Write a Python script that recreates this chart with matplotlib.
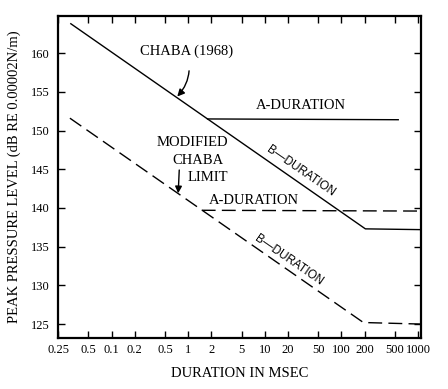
import matplotlib
matplotlib.use("Agg")
import matplotlib.pyplot as plt

# ---- data ----
chaba_b_x = [0.0294, 205, 1090]
chaba_b_y = [163.8, 137.3, 137.2]
chaba_a_x = [1.79, 550]
chaba_a_y = [151.5, 151.4]

mod_b_x = [0.0286, 193, 1090]
mod_b_y = [151.6, 125.2, 125.0]
mod_a_x = [1.5, 1090]
mod_a_y = [139.7, 139.6]

xtick_vals = [0.02, 0.05, 0.1, 0.2, 0.5, 1, 2, 5, 10, 20, 50, 100, 200, 500, 1000]
xtick_labels = ["0.25", "0.5", "0.1", "0.2", "0.5", "1", "2", "5", "10", "20",
                "50", "100", "200", "500", "1000"]
ytick_vals = [125, 130, 135, 140, 145, 150, 155, 160]

serif = ["Liberation Serif", "DejaVu Serif"]
sans = ["Liberation Sans", "DejaVu Sans"]

fig = plt.figure(figsize=(4.48, 3.89), dpi=100)
ax = fig.add_axes([58 / 448, 1 - 338 / 389, (421 - 58) / 448, (338 - 16) / 389])
ax.set_xscale("log")
ax.set_xlim(0.02, 1090)
ax.set_ylim(123.2, 164.8)

ax.plot(chaba_b_x, chaba_b_y, color="black", lw=1.0)
ax.plot(chaba_a_x, chaba_a_y, color="black", lw=1.0)
l1, = ax.plot(mod_b_x, mod_b_y, color="black", lw=1.0)
l2, = ax.plot(mod_a_x, mod_a_y, color="black", lw=1.0)
for l in (l1, l2):
    l.set_dashes((10, 4.5))

ax.set_xticks(xtick_vals)
ax.set_xticklabels(xtick_labels, fontfamily=serif, fontsize=9)
ax.xaxis.set_minor_locator(matplotlib.ticker.NullLocator())
ax.set_yticks(ytick_vals)
ax.set_yticklabels([str(v) for v in ytick_vals], fontfamily=serif, fontsize=9)
ax.tick_params(axis="both", direction="in", length=5, width=1,
               top=True, right=True, labeltop=False, labelright=False)
ax.tick_params(axis="x", pad=4)
ax.tick_params(axis="y", pad=6)
for s in ax.spines.values():
    s.set_linewidth(1.6)

ax.set_xlabel("DURATION IN MSEC", fontfamily=serif, fontsize=10.5, labelpad=8)
ax.set_ylabel("PEAK PRESSURE LEVEL (dB RE 0.00002N/m)", fontfamily=serif,
              fontsize=10.5, labelpad=7)

# annotations
ax.annotate("CHABA (1968)", xy=(0.72, 154.4), xytext=(0.94, 160.2),
            ha="center", va="center", fontfamily=serif, fontsize=10.5,
            arrowprops=dict(arrowstyle="-|>,head_length=0.4,head_width=0.2",
                            color="black", lw=1.0, shrinkA=7, shrinkB=0,
                            connectionstyle="arc3,rad=-0.3"))
ax.text(1.13, 148.4, "MODIFIED", ha="center", va="center",
        fontfamily=serif, fontsize=10.5)
ax.text(1.35, 146.15, "CHABA", ha="center", va="center",
        fontfamily=serif, fontsize=10.5)
ax.text(1.82, 143.95, "LIMIT", ha="center", va="center",
        fontfamily=serif, fontsize=10.5)
ax.annotate("", xy=(0.74, 141.9), xytext=(0.764, 144.9),
            arrowprops=dict(arrowstyle="-|>,head_length=0.4,head_width=0.2",
                            color="black", lw=1.0, shrinkA=0, shrinkB=0))

ax.text(29.4, 153.3, "A-DURATION", ha="center", va="center",
        fontfamily=serif, fontsize=10.5)
ax.text(7.2, 140.9, "A-DURATION", ha="center", va="center",
        fontfamily=serif, fontsize=10.5)
ax.text(29.4, 144.8, "B\u2014DURATION", ha="center", va="center",
        rotation=-34.6, rotation_mode="anchor", fontfamily=sans, fontsize=8.5)
ax.text(20.5, 133.3, "B\u2014DURATION", ha="center", va="center",
        rotation=-34.6, rotation_mode="anchor", fontfamily=sans, fontsize=8.5)

fig.savefig("out.png", dpi=100)
